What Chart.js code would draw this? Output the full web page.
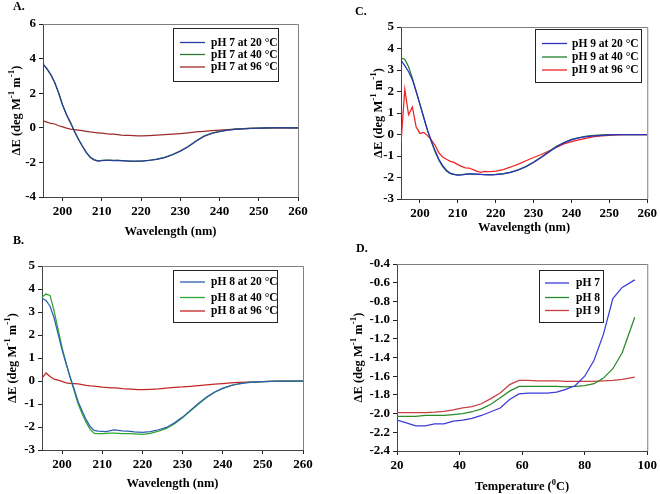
<!DOCTYPE html>
<html>
<head>
<meta charset="utf-8">
<script src="https://cdn.jsdelivr.net/npm/chart.js@4.4.1/dist/chart.umd.min.js"></script>
<style>
html,body{margin:0;padding:0;background:#fff;}
#wrap{position:relative;width:660px;height:494px;overflow:hidden;}
canvas{position:absolute;}
.lbl{position:absolute;font:bold 12px "Liberation Serif",serif;color:#000;}
</style>
</head>
<body>
<div id="wrap">
<canvas id="cA" width="330" height="247" style="left:0;top:0;width:330px;height:247px"></canvas>
<canvas id="cC" width="330" height="247" style="left:330px;top:0;width:330px;height:247px"></canvas>
<canvas id="cB" width="330" height="247" style="left:0;top:247px;width:330px;height:247px"></canvas>
<canvas id="cD" width="330" height="247" style="left:330px;top:247px;width:330px;height:247px"></canvas>
<div class="lbl" style="left:13px;top:-1px">A.</div>
<div class="lbl" style="left:13px;top:233px">B.</div>
<div class="lbl" style="left:355px;top:4px">C.</div>
<div class="lbl" style="left:356px;top:241px">D.</div>
</div>
<script>
// ---------- data ----------
const wavelength = [195,196,197,198,199,200,201,202,203,204,205,206,207,208,209,210,211,212,213,214,215,216,217,218,219,220,
  222,224,226,228,230,232,234,236,238,240,242,244,246,248,250,252,254,256,258,260];

const pH7_20C = [3.70,3.40,3.05,2.60,2.00,1.30,0.75,0.30,-0.20,-0.65,-1.05,-1.42,-1.70,-1.85,-1.92,-1.90,-1.88,-1.88,-1.90,-1.89,-1.90,-1.91,-1.92,-1.93,-1.93,-1.92,
  -1.89,-1.82,-1.72,-1.56,-1.35,-1.10,-0.78,-0.50,-0.33,-0.22,-0.14,-0.09,-0.06,-0.04,-0.02,0.00,0.00,0.01,0.00,0.00];
const pH7_40C = [3.68,3.42,3.08,2.62,2.02,1.32,0.76,0.30,-0.20,-0.64,-1.04,-1.41,-1.69,-1.84,-1.91,-1.89,-1.87,-1.87,-1.89,-1.89,-1.90,-1.91,-1.92,-1.94,-1.93,-1.92,
  -1.88,-1.81,-1.71,-1.55,-1.34,-1.08,-0.76,-0.48,-0.31,-0.20,-0.13,-0.08,-0.05,-0.03,-0.02,0.00,0.01,0.01,0.00,0.00];
const pH7_96C = [0.40,0.33,0.25,0.22,0.12,0.05,-0.02,-0.08,-0.10,-0.13,-0.16,-0.20,-0.24,-0.27,-0.29,-0.31,-0.34,-0.36,-0.37,-0.39,-0.42,-0.44,-0.44,-0.45,-0.46,-0.47,
  -0.45,-0.42,-0.39,-0.36,-0.33,-0.29,-0.24,-0.20,-0.17,-0.13,-0.10,-0.07,-0.05,-0.04,-0.03,-0.02,-0.01,0.00,0.00,-0.01];

const pH8_20C = [3.60,3.50,3.25,2.75,2.05,1.35,0.75,0.18,-0.35,-0.90,-1.30,-1.68,-1.98,-2.15,-2.18,-2.19,-2.20,-2.16,-2.13,-2.15,-2.17,-2.18,-2.19,-2.21,-2.22,-2.23,
  -2.20,-2.12,-2.02,-1.82,-1.57,-1.27,-0.97,-0.70,-0.48,-0.32,-0.20,-0.12,-0.07,-0.05,-0.03,-0.02,-0.01,0.00,0.00,0.00];
const pH8_40C = [3.65,3.78,3.72,3.05,2.25,1.45,0.78,0.15,-0.42,-1.00,-1.42,-1.80,-2.10,-2.28,-2.29,-2.29,-2.28,-2.27,-2.27,-2.28,-2.29,-2.29,-2.29,-2.30,-2.31,-2.32,
  -2.28,-2.18,-2.06,-1.86,-1.60,-1.30,-1.00,-0.72,-0.49,-0.32,-0.20,-0.12,-0.07,-0.05,-0.03,-0.02,-0.01,0.00,0.00,0.00];
const pH8_96C = [0.12,0.35,0.20,0.08,0.04,-0.02,-0.08,-0.10,-0.11,-0.13,-0.16,-0.19,-0.21,-0.22,-0.24,-0.27,-0.28,-0.30,-0.30,-0.31,-0.33,-0.34,-0.35,-0.36,-0.37,-0.38,
  -0.36,-0.34,-0.31,-0.28,-0.26,-0.23,-0.20,-0.17,-0.14,-0.11,-0.08,-0.06,-0.05,-0.04,-0.03,-0.02,-0.01,0.00,0.00,0.00];

const pH9_20C = [3.45,3.20,2.92,2.55,2.00,1.40,0.80,0.20,-0.30,-0.75,-1.15,-1.45,-1.66,-1.80,-1.85,-1.89,-1.88,-1.85,-1.83,-1.83,-1.84,-1.86,-1.87,-1.88,-1.88,-1.87,
  -1.83,-1.76,-1.65,-1.50,-1.30,-1.07,-0.82,-0.58,-0.39,-0.25,-0.16,-0.10,-0.06,-0.04,-0.02,-0.01,0.00,0.00,0.00,-0.01];
const pH9_40C = [3.55,3.50,3.15,2.62,2.02,1.40,0.78,0.18,-0.33,-0.80,-1.20,-1.50,-1.70,-1.82,-1.85,-1.89,-1.87,-1.84,-1.83,-1.84,-1.85,-1.86,-1.87,-1.87,-1.87,-1.86,
  -1.82,-1.75,-1.63,-1.48,-1.28,-1.05,-0.80,-0.55,-0.37,-0.23,-0.14,-0.08,-0.04,-0.02,-0.01,0.00,0.00,0.00,0.00,0.00];
const pH9_96C = [-0.40,2.10,0.92,1.28,0.35,0.05,0.10,-0.05,-0.25,-0.50,-0.85,-1.05,-1.15,-1.25,-1.30,-1.40,-1.48,-1.55,-1.56,-1.63,-1.70,-1.76,-1.72,-1.73,-1.72,-1.70,
  -1.63,-1.51,-1.38,-1.22,-1.07,-0.93,-0.77,-0.60,-0.44,-0.33,-0.25,-0.17,-0.10,-0.06,-0.04,-0.02,-0.01,0.00,0.00,-0.01];

const temperature = [20,23,26,29,32,35,38,41,44,47,50,53,56,59,62,65,68,71,74,77,80,83,86,89,92,96];
const meltPH7 = [-2.07,-2.10,-2.13,-2.13,-2.11,-2.11,-2.08,-2.07,-2.05,-2.02,-1.98,-1.94,-1.85,-1.79,-1.78,-1.78,-1.78,-1.77,-1.74,-1.70,-1.60,-1.43,-1.15,-0.77,-0.65,-0.57];
const meltPH8 = [-2.03,-2.03,-2.03,-2.02,-2.02,-2.02,-2.01,-2.00,-1.98,-1.95,-1.90,-1.83,-1.76,-1.71,-1.71,-1.71,-1.71,-1.71,-1.715,-1.71,-1.70,-1.68,-1.62,-1.52,-1.35,-0.97];
const meltPH9 = [-1.99,-1.99,-1.99,-1.99,-1.985,-1.975,-1.96,-1.94,-1.925,-1.895,-1.84,-1.78,-1.69,-1.645,-1.645,-1.65,-1.65,-1.65,-1.655,-1.655,-1.655,-1.655,-1.65,-1.645,-1.635,-1.61];

const wlTicks = [200,210,220,230,240,250,260];
const tempTicks = [20,40,60,80,100];
const yTicksA = [-4,-2,0,2,4,6];
const yTicksBC = [-3,-2,-1,0,1,2,3,4,5];
const yTicksD = [-2.4,-2.2,-2.0,-1.8,-1.6,-1.4,-1.2,-1.0,-0.8,-0.6,-0.4];

const labelsA = ['pH 7 at 20 \u00B0C','pH 7 at 40 \u00B0C','pH 7 at 96 \u00B0C'];
const labelsB = ['pH 8 at 20 \u00B0C','pH 8 at 40 \u00B0C','pH 8 at 96 \u00B0C'];
const labelsC = ['pH 9 at 20 \u00B0C','pH 9 at 40 \u00B0C','pH 9 at 96 \u00B0C'];
const labelsD = ['pH 7','pH 8','pH 9'];

// ---------- helpers ----------
const FONT = '"Liberation Serif", "Times New Roman", serif';
const pts = (xs, ys) => xs.map((x, i) => ({x: x, y: ys[i]}));

function drawRich(ctx, segs, size, supSize, rise) {
  let total = 0;
  segs.forEach(s => { ctx.font = 'bold ' + (s.sup ? supSize : size) + 'px ' + FONT; s.w = ctx.measureText(s.t).width; total += s.w; });
  let x = -total / 2;
  ctx.textBaseline = 'middle';
  ctx.textAlign = 'left';
  segs.forEach(s => {
    ctx.font = 'bold ' + (s.sup ? supSize : size) + 'px ' + FONT;
    ctx.fillText(s.t, x, s.sup ? -rise : 0);
    x += s.w;
  });
}

const decorPlugin = {
  id: 'decor',
  afterDraw(chart, args, o) {
    const ctx = chart.ctx, a = chart.chartArea;
    ctx.save();
    ctx.strokeStyle = '#7f7f7f';
    ctx.lineWidth = 1;
    ctx.beginPath();
    ctx.moveTo(a.left, a.top + 0.5); ctx.lineTo(a.right + 0.5, a.top + 0.5); ctx.lineTo(a.right + 0.5, a.bottom);
    ctx.stroke();
    ctx.fillStyle = '#000';
    ctx.save();
    ctx.translate((a.left + a.right) / 2 + (o.xdx || 0), a.bottom + o.xdy);
    drawRich(ctx, o.xTitle, 12.5, 8.5, 4);
    ctx.restore();
    ctx.save();
    ctx.translate(a.left + o.ydx, (a.top + a.bottom) / 2 + (o.ydy || 0));
    ctx.rotate(-Math.PI / 2);
    drawRich(ctx, o.yTitle, 12.5, 9, 5);
    ctx.restore();
    const L = o.legend;
    ctx.fillStyle = '#fff';
    ctx.fillRect(L.x, L.y, L.w, L.h);
    ctx.strokeStyle = '#222';
    ctx.lineWidth = 1;
    ctx.strokeRect(L.x + 0.5, L.y + 0.5, L.w, L.h);
    ctx.font = 'bold 11.5px ' + FONT;
    ctx.textBaseline = 'middle';
    ctx.textAlign = 'left';
    chart.data.datasets.forEach((ds, i) => {
      const yy = L.rows[i];
      ctx.strokeStyle = ds.borderColor;
      ctx.lineWidth = 1.3;
      ctx.beginPath(); ctx.moveTo(L.l1, yy); ctx.lineTo(L.l2, yy); ctx.stroke();
      ctx.fillStyle = '#000';
      ctx.fillText(ds.label, L.tx, yy + 0.5);
    });
    ctx.restore();
  }
};

function makeChart(id, cfg) {
  const W = 330, H = 247;
  const datasets = cfg.series.map((s, i) => ({
    label: cfg.labels[i],
    data: pts(cfg.xs, s),
    borderColor: cfg.colors[i],
    borderWidth: 1.25,
    pointRadius: 0,
    tension: 0,
    fill: false
  }));
  return new Chart(document.getElementById(id), {
    type: 'line',
    data: { datasets: datasets },
    plugins: [decorPlugin],
    options: {
      responsive: false,
      animation: false,
      events: [],
      layout: { padding: { left: 0, top: cfg.area.top, right: W - cfg.area.right, bottom: 0 } },
      plugins: {
        legend: { display: false },
        tooltip: { enabled: false },
        decor: { xTitle: cfg.xTitle, yTitle: cfg.yTitle, xdy: cfg.xdy, ydx: cfg.ydx, legend: cfg.legend }
      },
      scales: {
        x: {
          type: 'linear',
          min: cfg.xmin, max: cfg.xmax,
          afterBuildTicks: sc => { sc.ticks = cfg.xTicks.map(v => ({ value: v })); },
          afterFit: sc => { sc.height = H - cfg.area.bottom; },
          grid: { display: true, drawOnChartArea: false, drawTicks: true, tickLength: 4, color: '#222', tickColor: '#222' },
          border: { display: true, color: '#444', width: 1 },
          ticks: { color: '#000', font: { family: FONT, size: 13, weight: 'bold' }, padding: 3, maxRotation: 0, autoSkip: false }
        },
        y: {
          type: 'linear',
          min: cfg.ymin, max: cfg.ymax,
          afterBuildTicks: sc => { sc.ticks = cfg.yTicks.map(v => ({ value: v })); },
          afterFit: sc => { sc.width = cfg.area.left; },
          grid: { display: true, drawOnChartArea: false, drawTicks: true, tickLength: 4, color: '#222', tickColor: '#222' },
          border: { display: true, color: '#444', width: 1 },
          ticks: { color: '#000', font: { family: FONT, size: 13, weight: 'bold' }, padding: 3, autoSkip: false,
                   callback: v => cfg.yFmt ? cfg.yFmt(v) : String(v) }
        }
      }
    }
  });
}

const yTitleSegs = () => [{t:'\u0394E (deg M'},{t:'-1',sup:true},{t:' m'},{t:'-1',sup:true},{t:')'}];
const wlTitle = () => [{t:'Wavelength (nm)'}];

makeChart('cA', {
  xs: wavelength, series: [pH7_20C, pH7_40C, pH7_96C], labels: labelsA,
  colors: ['#2b3d9c', '#2f7a36', '#9b2b2b'],
  area: { left: 43, right: 298, top: 24, bottom: 197 },
  xmin: 195, xmax: 260, ymin: -4, ymax: 6, xTicks: wlTicks, yTicks: yTicksA,
  xTitle: wlTitle(), yTitle: yTitleSegs(), xdy: 35, ydx: -26,
  legend: { x: 173, y: 28, w: 105, h: 53, rows: [42.5, 54.5, 67], l1: 180, l2: 205, tx: 211 }
});
makeChart('cC', {
  xs: wavelength, series: [pH9_20C, pH9_40C, pH9_96C], labels: labelsC,
  colors: ['#2f2fc0', '#1f7f2a', '#ee2424'],
  area: { left: 71, right: 318, top: 27, bottom: 199 },
  xmin: 195, xmax: 260, ymin: -3, ymax: 5, xTicks: wlTicks, yTicks: yTicksBC,
  xTitle: wlTitle(), yTitle: yTitleSegs(), xdy: 29, ydx: -22,
  legend: { x: 205, y: 29, w: 106, h: 53, rows: [43.5, 57, 70], l1: 212, l2: 237, tx: 242 }
});
makeChart('cB', {
  xs: wavelength, series: [pH8_20C, pH8_40C, pH8_96C], labels: labelsB,
  colors: ['#2e5fb0', '#2fa62f', '#c42525'],
  area: { left: 42, right: 303, top: 19, bottom: 203 },
  xmin: 195, xmax: 260, ymin: -3, ymax: 5, xTicks: wlTicks, yTicks: yTicksBC,
  xTitle: wlTitle(), yTitle: yTitleSegs(), xdy: 34, ydx: -29,
  legend: { x: 173, y: 23, w: 104, h: 52, rows: [35, 50.5, 64], l1: 180, l2: 205, tx: 211 }
});
makeChart('cD', {
  xs: temperature, series: [meltPH7, meltPH8, meltPH9], labels: labelsD,
  colors: ['#3a3ad8', '#2a8a2a', '#c84040'],
  area: { left: 67, right: 321, top: 17, bottom: 204 },
  xmin: 20, xmax: 100, ymin: -2.4, ymax: -0.4, xTicks: tempTicks, yTicks: yTicksD,
  yFmt: v => v.toFixed(1),
  xTitle: [{t:'Temperature ('},{t:'0',sup:true},{t:'C)'}], yTitle: yTitleSegs(), xdy: 36, ydx: -38,
  legend: { x: 209, y: 23, w: 64, h: 52, rows: [36, 50.5, 63.5], l1: 215, l2: 239, tx: 246 }
});
</script>
</body>
</html>
